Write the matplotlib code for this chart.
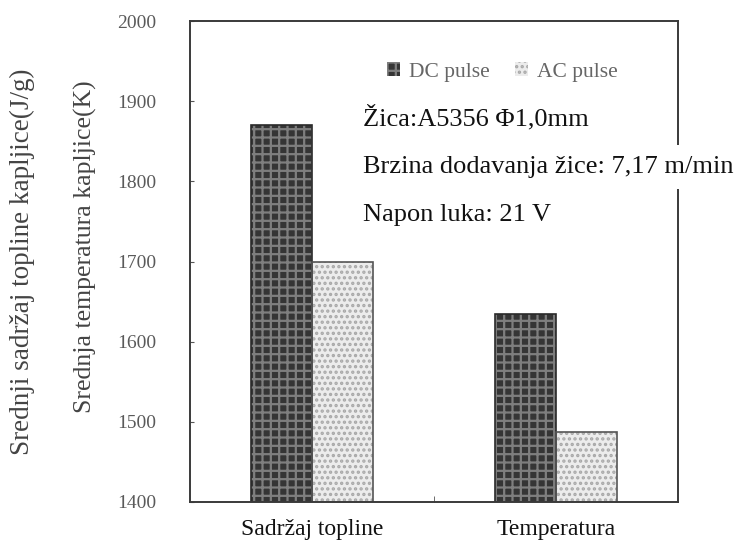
import numpy as np
import matplotlib
matplotlib.use('Agg')
import matplotlib.pyplot as plt

# ─────────────────────────────────────────────
# data
# ─────────────────────────────────────────────
categories = ['Sadržaj topline', 'Temperatura']
dc_pulse = [1870, 1635]
ac_pulse = [1700, 1487]
series_names = ['DC pulse', 'AC pulse']
y_ticks = [1400, 1500, 1600, 1700, 1800, 1900, 2000]
notes = ['Žica:A5356 Φ1,0mm',
         'Brzina dodavanja žice: 7,17 m/min',
         'Napon luka: 21 V']

plt.rcParams['font.family'] = ['Liberation Serif', 'DejaVu Serif']
plt.rcParams['hatch.linewidth'] = 1.6

fig = plt.figure(figsize=(7.47, 5.47), dpi=100, facecolor='white')
ax = fig.add_axes([190/747, 1-502/547, 488/747, 481/547])

x = np.arange(len(categories))
w = 0.25

# hatched bars (hatch colour = edgecolor), then a dark outline on top
ax.bar(x - w/2, dc_pulse, width=w, color='#353535', hatch='++',
       edgecolor='#7e7e7e', lw=0, label=series_names[0])
ax.bar(x + w/2, ac_pulse, width=w, color='#ececec', hatch='...',
       edgecolor='#a8a8a8', lw=0, label=series_names[1])
ax.bar(x - w/2, dc_pulse, width=w, fill=False, edgecolor='#2a2a2a', lw=1.2)
ax.bar(x + w/2, ac_pulse, width=w, fill=False, edgecolor='#555555', lw=1.2)

ax.set_xlim(-0.5, 1.5)
ax.set_ylim(1400, 2000)
ax.set_yticks(y_ticks)
ax.tick_params(axis='y', direction='in', length=3, pad=24,
               labelsize=14, labelcolor='#5a5a5a', color='#555')
ax.set_xticks(x, categories)
ax.tick_params(axis='x', length=0, pad=12, labelsize=17, labelcolor='#111')
ax.set_xticks([0.5], minor=True)
ax.tick_params(axis='x', which='minor', direction='in', length=4, color='#555')

for sp in ax.spines.values():
    sp.set_color('#3a3a3a')
    sp.set_linewidth(1.4)

# two stacked y labels
fig.text(22/747, 1-262/547, 'Srednji sadržaj topline kapljice(J/g)',
         rotation=90, ha='center', va='center', fontsize=19.5, color='#444')
fig.text(85/747, 1-247/547, 'Srednja temperatura kapljice(K)',
         rotation=90, ha='center', va='center', fontsize=18.5, color='#444')

ax.legend(loc='center', bbox_to_anchor=(0.64, 0.894), ncol=2, frameon=False,
          fontsize=15.5, labelcolor='#666', handlelength=0.6, handleheight=0.6,
          handletextpad=0.4, columnspacing=1.2)

# process notes
for txt, yp in zip(notes, [118, 167, 215]):
    ax.text((363-190)/488, (502-yp)/481, txt, transform=ax.transAxes,
            ha='left', va='center', fontsize=19, color='#111', clip_on=False,
            bbox=dict(facecolor='white', edgecolor='none', pad=8))

fig.savefig('out.png', dpi=100, facecolor='white')
